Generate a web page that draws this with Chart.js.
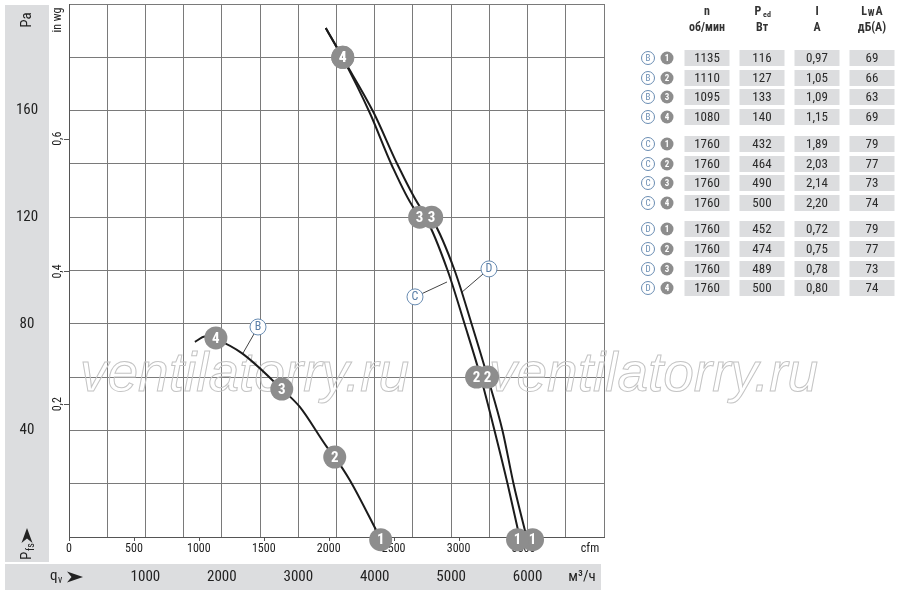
<!DOCTYPE html>
<html><head><meta charset="utf-8">
<script src="https://cdn.jsdelivr.net/npm/chart.js@4.4.0/dist/chart.umd.min.js"></script>
<style>html,body{margin:0;padding:0;background:#fff;overflow:hidden}</style>
</head><body><canvas id="c" width="900" height="594" style="width:900px;height:594px;display:block"></canvas>
<script>
// ---- data (m³/h , Pa) ----
const qB = [1647, 1780, 1948, 2261, 2784, 3020, 3373, 3477, 3673, 4065];
const pB = [73.2, 75.2, 73.9, 69.0, 55.5, 48.8, 33.8, 30.0, 21.4, 0];
const qC = [3359, 3582, 3935, 4222, 4510, 4680, 4954, 5176, 5386, 5569, 5739, 5895];
const pC = [191.0, 179.7, 159.2, 139.6, 123.5, 118.9, 100.0, 79.9, 60.0, 39.8, 19.9, 0];
const qD = [3359, 3582, 3987, 4301, 4601, 4758, 5046, 5268, 5477, 5673, 5817, 5987];
const pD = [191.0, 179.7, 159.2, 139.6, 123.5, 118.9, 100.0, 79.9, 60.0, 39.8, 19.9, 0];
// operating points
const ptLabels = ['1', '2', '3', '4'];
const mqB = [4078, 3477, 2784, 1922];
const mpB = [-1, 30.0, 55.5, 74.7];
const mqC = [5869, 5333, 4588, 3582];
const mpC = [-1, 60.0, 120.0, 180.0];
const mqD = [6065, 5477, 4745, 3582];
const mpD = [-1, 60.0, 120.0, 180.0];
// curve tags
const tagNames = ['B', 'C', 'D'];
const tagQ = [2473, 4527, 5495];
const tagP = [78.8, 90.1, 100.6];
const tagToQ = [2277, 4946, 5142];
const tagToP = [69.0, 95.7, 91.9];
// axes
const paTicks = [40, 80, 120, 160];
const inwgTicks = [0.2, 0.4, 0.6];
const inwgText = ['0,2', '0,4', '0,6'];
const cfmTicks = [0, 500, 1000, 1500, 2000, 2500, 3000, 3500];
const m3hTicks = [1000, 2000, 3000, 4000, 5000, 6000];
// table
const tCurve = ['B','B','B','B','C','C','C','C','D','D','D','D'];
const tNum = ['1','2','3','4','1','2','3','4','1','2','3','4'];
const tRpm = ['1135','1110','1095','1080','1760','1760','1760','1760','1760','1760','1760','1760'];
const tPed = ['116','127','133','140','432','464','490','500','452','474','489','500'];
const tI = ['0,97','1,05','1,09','1,15','1,89','2,03','2,14','2,20','0,72','0,75','0,78','0,80'];
const tLwa = ['69','66','63','69','79','77','73','74','79','77','73','74'];
const tRowY = [58, 78, 97, 117, 144, 164, 183, 203, 229, 249, 269, 288];

const NF = '"Liberation Sans Narrow", "Roboto Condensed", "Liberation Sans", sans-serif';
const PA_PER_INWG = 249.089;
const M3H_PER_CFM = 1.699;
const zip = (a, b) => a.map((v, i) => ({x: v, y: b[i]}));

const lineDs = (q, p) => ({type: 'line', data: zip(q, p), borderColor: '#1b1b1b', borderWidth: 2,
  pointRadius: 0, tension: 0.4, cubicInterpolationMode: 'monotone', fill: false, clip: false});
const markDs = (q, p) => ({type: 'scatter', data: zip(q, p), pointRadius: 11.5, pointHoverRadius: 11.5,
  pointBackgroundColor: '#8d8d8d', pointBorderWidth: 0, clip: false, isMarker: true});

const bluish = '#5a7fa8';
const tagColor = '#6a8db3';

const decor = {
  id: 'decor',
  beforeDraw(chart) {
    const ctx = chart.ctx;
    ctx.save();
    ctx.fillStyle = '#fff';
    ctx.fillRect(0, 0, 900, 594);
    ctx.fillStyle = '#dcdddf';
    ctx.fillRect(5, 5, 44, 557);
    ctx.fillRect(5, 564, 596, 26);
    // table
    ctx.fillStyle = '#333';
    ctx.textAlign = 'center';
    ctx.textBaseline = 'middle';
    const cols = [707, 762, 817, 872];
    ctx.font = 'bold 12px ' + NF;
    ctx.fillText('n', cols[0], 12);
    ctx.fillText('об/мин', cols[0], 28);
    ctx.fillText('P', cols[1] - 4, 12);
    ctx.font = 'bold 8px ' + NF; ctx.fillText('ed', cols[1] + 5, 15);
    ctx.font = 'bold 12px ' + NF;
    ctx.fillText('Вт', cols[1], 28);
    ctx.fillText('I', cols[2], 12);
    ctx.fillText('A', cols[2], 28);
    ctx.fillText('L', cols[3] - 8, 12);
    ctx.font = 'bold 9px ' + NF; ctx.fillText('W', cols[3] - 1, 14);
    ctx.font = 'bold 12px ' + NF; ctx.fillText('A', cols[3] + 7, 12);
    ctx.fillText('дБ(A)', cols[3], 28);
    const vals = [tRpm, tPed, tI, tLwa];
    tRowY.forEach((y, i) => {
      ctx.beginPath(); ctx.arc(648, y, 6.5, 0, Math.PI * 2);
      ctx.fillStyle = '#fff'; ctx.fill();
      ctx.strokeStyle = tagColor; ctx.lineWidth = 1; ctx.stroke();
      ctx.fillStyle = tagColor; ctx.font = '9px ' + NF;
      ctx.fillText(tCurve[i], 648, y + 0.5);
      ctx.beginPath(); ctx.arc(667, y, 6.5, 0, Math.PI * 2);
      ctx.fillStyle = '#8d8d8d'; ctx.fill();
      ctx.fillStyle = '#fff'; ctx.font = 'bold 9px ' + NF;
      ctx.fillText(tNum[i], 667, y + 0.5);
      cols.forEach((cx, k) => {
        ctx.fillStyle = '#dcdddf';
        ctx.fillRect(cx - 22.5, y - 8, 45, 16);
        ctx.fillStyle = '#2a2a2a';
        ctx.font = '13px ' + NF;
        ctx.fillText(vals[k][i], cx, y + 0.5);
      });
    });
    ctx.restore();
  },
  beforeDatasetsDraw(chart) {
    const ctx = chart.ctx, xs = chart.scales.x, ys = chart.scales.y, a = chart.chartArea;
    ctx.save();
    // watermark
    ctx.font = 'italic 55px "Liberation Sans", Arial, sans-serif';
    ctx.strokeStyle = '#c4c4c4';
    ctx.lineWidth = 1;
    ctx.textAlign = 'left';
    ctx.textBaseline = 'alphabetic';
    ctx.strokeText('ventilatorry.ru', 80, 391);
    ctx.strokeText('ventilatorry.ru', 489, 391);
    // in wg ticks
    ctx.strokeStyle = '#555';
    inwgTicks.forEach(v => {
      const y = Math.round(ys.getPixelForValue(v * PA_PER_INWG)) + 0.5;
      ctx.beginPath(); ctx.moveTo(a.left - 5, y); ctx.lineTo(a.left, y); ctx.stroke();
    });
    cfmTicks.forEach(v => {
      const x = Math.round(xs.getPixelForValue(v * M3H_PER_CFM)) + 0.5;
      ctx.beginPath(); ctx.moveTo(x, a.bottom); ctx.lineTo(x, a.bottom + 4); ctx.stroke();
    });
    // cfm labels (under the markers)
    ctx.fillStyle = '#222';
    ctx.textAlign = 'center';
    ctx.textBaseline = 'middle';
    ctx.font = '12px ' + NF;
    cfmTicks.forEach(v => ctx.fillText(String(v), xs.getPixelForValue(v * M3H_PER_CFM), 549));
    ctx.fillText('cfm', 590, 549);
    // tag leader lines
    ctx.strokeStyle = '#444';
    tagNames.forEach((t, i) => {
      ctx.beginPath();
      ctx.moveTo(xs.getPixelForValue(tagQ[i]), ys.getPixelForValue(tagP[i]));
      ctx.lineTo(xs.getPixelForValue(tagToQ[i]), ys.getPixelForValue(tagToP[i]));
      ctx.stroke();
    });
    ctx.restore();
  },
  afterDatasetsDraw(chart) {
    const ctx = chart.ctx, xs = chart.scales.x, ys = chart.scales.y, a = chart.chartArea;
    ctx.save();
    ctx.textAlign = 'center';
    ctx.textBaseline = 'middle';
    chart.data.datasets.forEach((ds, di) => {
      if (!ds.isMarker) return;
      const meta = chart.getDatasetMeta(di);
      meta.data.forEach((el, i) => {
        ctx.fillStyle = '#fff';
        ctx.font = 'bold 15px ' + NF;
        ctx.fillText(ptLabels[i], el.x, el.y + 1);
      });
    });
    tagNames.forEach((t, i) => {
      const x = xs.getPixelForValue(tagQ[i]), y = ys.getPixelForValue(tagP[i]);
      ctx.beginPath(); ctx.arc(x, y, 8, 0, Math.PI * 2);
      ctx.fillStyle = '#fff'; ctx.fill();
      ctx.strokeStyle = tagColor; ctx.lineWidth = 1; ctx.stroke();
      ctx.fillStyle = bluish; ctx.font = '12px ' + NF;
      ctx.fillText(t, x, y + 0.5);
    });
    ctx.fillStyle = '#222';
    ctx.font = '15px ' + NF;
    paTicks.forEach(v => ctx.fillText(String(v), 27, ys.getPixelForValue(v)));
    const rot = (txt, x, y, font) => {
      ctx.save(); ctx.translate(x, y); ctx.rotate(-Math.PI / 2);
      ctx.font = font; ctx.fillText(txt, 0, 0); ctx.restore();
    };
    rot('Pa', 27, 20, '15px ' + NF);
    rot('in wg', 58, 20, '12px ' + NF);
    inwgTicks.forEach((v, i) => rot(inwgText[i], 58, ys.getPixelForValue(v * PA_PER_INWG), '12px ' + NF));
    ctx.save(); ctx.translate(27, 560); ctx.rotate(-Math.PI / 2);
    ctx.textAlign = 'left'; ctx.font = '15px ' + NF; ctx.fillText('P', 0, 0);
    ctx.font = '10px ' + NF; ctx.fillText('fs', 9, 4);
    ctx.restore();
    ctx.beginPath();
    ctx.moveTo(27, 528); ctx.lineTo(32.5, 543); ctx.lineTo(27, 538.5); ctx.lineTo(21.5, 543); ctx.closePath();
    ctx.fill();
    ctx.textAlign = 'left';
    ctx.font = '15px ' + NF; ctx.fillText('q', 50, 576);
    ctx.font = '10px ' + NF; ctx.fillText('v', 58, 580);
    ctx.beginPath();
    ctx.moveTo(83, 577); ctx.lineTo(67, 571.5); ctx.lineTo(71.5, 577); ctx.lineTo(67, 582.5); ctx.closePath();
    ctx.fill();
    ctx.textAlign = 'center';
    ctx.font = '15px ' + NF;
    m3hTicks.forEach(v => ctx.fillText(String(v), xs.getPixelForValue(v), 577));
    ctx.fillText('м³/ч', 582, 577);
    ctx.restore();
  }
};

new Chart(document.getElementById('c'), {
  data: {
    datasets: [
      markDs(mqB, mpB), markDs(mqC, mpC), markDs(mqD, mpD),
      lineDs(qB, pB), lineDs(qC, pC), lineDs(qD, pD)
    ]
  },
  options: {
    responsive: false,
    animation: false,
    devicePixelRatio: 1,
    layout: {autoPadding: false, padding: {left: 69, top: 4, right: 296, bottom: 57}},
    plugins: {legend: {display: false}, tooltip: {enabled: false}},
    events: [],
    scales: {
      x: {type: 'linear', min: 0, max: 7000,
        ticks: {display: false, stepSize: 500},
        grid: {color: '#7a7a7a', lineWidth: 1, drawTicks: false},
        border: {display: true, color: '#555'}},
      y: {type: 'linear', min: 0, max: 200,
        ticks: {display: false, stepSize: 20},
        grid: {color: '#7a7a7a', lineWidth: 1, drawTicks: false},
        border: {display: true, color: '#555'}}
    }
  },
  plugins: [decor]
});
</script>
</body></html>
